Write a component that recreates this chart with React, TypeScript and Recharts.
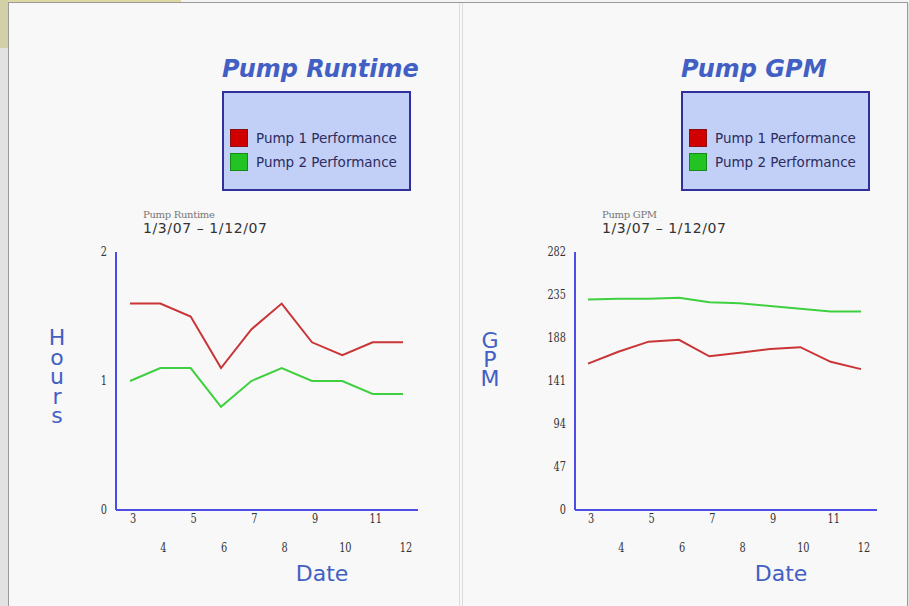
import React from 'react';
import { LineChart, Line, XAxis, YAxis, Legend } from 'recharts';

const dates = [3, 4, 5, 6, 7, 8, 9, 10, 11, 12];
const runtimePump1 = [1.6, 1.6, 1.5, 1.1, 1.4, 1.6, 1.3, 1.2, 1.3, 1.3];
const runtimePump2 = [1.0, 1.1, 1.1, 0.8, 1.0, 1.1, 1.0, 1.0, 0.9, 0.9];
const gpmPump1 = [160, 173, 184, 186, 168, 172, 176, 178, 162, 154];
const gpmPump2 = [230, 231, 231, 232, 227, 226, 223, 220, 217, 217];
const runtimeTicks = [0, 1, 2];
const gpmTicks = [0, 47, 94, 141, 188, 235, 282];
const seriesNames = ['Pump 1 Performance', 'Pump 2 Performance'];

const AXIS = '#4d4de6';
const TITLE = '#4260c4';
const RED = '#c93436';
const GREEN = '#3fd03f';

const build = (a: number[], b: number[]) => dates.map((d, i) => ({ date: d, p1: a[i], p2: b[i] }));

const XTick = (props: any) => {
  const { x, y, payload, index } = props;
  const odd = index % 2 === 0;
  return (
    <text transform={`translate(${x + 3},${y + (odd ? 13 : 42)}) scale(0.75,1)`} textAnchor="middle" fontFamily="DejaVu Serif" fontSize={13} fill="#333">
      {payload.value}
    </text>
  );
};

const YTick = (props: any) => {
  const { x, y, payload } = props;
  return (
    <text transform={`translate(${x - 1},${y + 4}) scale(0.75,1)`} textAnchor="end" fontFamily="DejaVu Serif" fontSize={13} fill="#333">
      {payload.value}
    </text>
  );
};

const LegendBox = (props: any) => {
  const items = props.payload || [];
  return (
    <div style={{ width: 185, height: 96, background: '#c2cff6', border: '2px solid #30309c' }}>
      <div style={{ height: 33 }} />
      {items.map((it: any, i: number) => (
        <div key={i} style={{ display: 'flex', alignItems: 'center', height: 24, marginLeft: 6 }}>
          <div style={{ width: 16, height: 16, background: i === 0 ? '#d10000' : '#22c322', border: `1px solid ${i === 0 ? '#8a1010' : '#158a15'}` }} />
          <span style={{ marginLeft: 8, fontFamily: 'DejaVu Sans', fontSize: 13.5, color: '#2c2c60', whiteSpace: 'nowrap' }}>{it.value}</span>
        </div>
      ))}
    </div>
  );
};

type PanelProps = {
  left: number;
  data: any[];
  ticks: number[];
  yMax: number;
  padL: number;
  padR: number;
};

const Panel = (p: PanelProps) => (
  <div style={{ position: 'absolute', left: p.left, top: 0, width: 450, height: 606 }}>
    <LineChart width={450} height={600} data={p.data} margin={{ top: 252, right: 32, bottom: 30, left: 86 }}>
      <XAxis
        type="number"
        dataKey="date"
        domain={[3, 12]}
        ticks={dates}
        interval={0}
        padding={{ left: p.padL, right: p.padR }}
        axisLine={{ stroke: AXIS, strokeWidth: 2 }}
        tickLine={false}
        tickSize={0}
        tickMargin={0}
        height={60}
        tick={<XTick />}
      />
      <YAxis
        type="number"
        domain={[0, p.yMax]}
        ticks={p.ticks}
        interval={0}
        axisLine={{ stroke: AXIS, strokeWidth: 2 }}
        tickLine={false}
        tickSize={0}
        tickMargin={8}
        width={30}
        tick={<YTick />}
      />
      <Legend
        content={<LegendBox />}
        wrapperStyle={{ position: 'absolute', left: 222, top: 91, width: 0, height: 0, overflow: 'visible' }}
      />
      <Line dataKey="p1" name={seriesNames[0]} stroke={RED} strokeWidth={2} dot={false} isAnimationActive={false} />
      <Line dataKey="p2" name={seriesNames[1]} stroke={GREEN} strokeWidth={2} dot={false} isAnimationActive={false} />
    </LineChart>
  </div>
);

const overlays = [
  { l: 0, t: 'Pump Runtime', s: 'Pump Runtime', L: ['H', 'o', 'u', 'r', 's'], y0: 345, st: 19.5, x: 57 },
  { l: 459, t: 'Pump GPM', s: 'Pump GPM', L: ['G', 'P', 'M'], y0: 348, st: 19, x: 31 },
];

export default function App() {
  return (
    <div style={{ position: 'fixed', left: 0, top: 0, width: 909, height: 606, background: '#e2e2e2', overflow: 'hidden' }}>
      <div style={{ position: 'absolute', left: 0, top: 0, width: 181, height: 4, background: '#dcd9a2' }} />
      <div style={{ position: 'absolute', left: 0, top: 0, width: 8, height: 48, background: '#d2d0a6' }} />
      <div style={{ position: 'absolute', left: 181, top: 0, width: 728, height: 3, background: '#f4f4f4' }} />
      <div style={{ position: 'absolute', left: 8, top: 2, width: 898, height: 620, background: '#f8f8f8', border: '1px solid #9a9a9a' }} />
      <div style={{ position: 'absolute', left: 459, top: 3, width: 1, height: 603, background: '#dcdcdc' }} />
      <div style={{ position: 'absolute', left: 462, top: 3, width: 1, height: 603, background: '#dcdcdc' }} />
      <Panel left={0} data={build(runtimePump1, runtimePump2)} ticks={runtimeTicks} yMax={2} padL={14} padR={15} />
      <Panel left={459} data={build(gpmPump1, gpmPump2)} ticks={gpmTicks} yMax={282} padL={13} padR={16} />
      {overlays.map((c, k) => (
        <div key={k} style={{ position: 'absolute', left: c.l, top: 0, width: 450, height: 606, pointerEvents: 'none' }}>
          <div style={{ position: 'absolute', left: 222, top: 55, fontFamily: 'DejaVu Sans', fontWeight: 'bold', fontStyle: 'italic', fontSize: 24, color: TITLE, whiteSpace: 'nowrap' }}>{c.t}</div>
          <div style={{ position: 'absolute', left: 143, top: 209, fontFamily: 'DejaVu Serif', fontSize: 10, color: '#777', whiteSpace: 'nowrap', letterSpacing: -0.3 }}>{c.s}</div>
          <div style={{ position: 'absolute', left: 143, top: 220, fontFamily: 'DejaVu Sans', fontSize: 14, color: '#333', whiteSpace: 'nowrap', letterSpacing: 0.6 }}>1/3/07 – 1/12/07</div>
          <svg width={450} height={606} style={{ position: 'absolute', left: 0, top: 0 }}>
            {c.L.map((ch, i) => (
              <text key={i} x={c.x} y={c.y0 + i * c.st} fontFamily="DejaVu Sans" fontSize={22} fill={TITLE} textAnchor="middle">{ch}</text>
            ))}
            <text x={322} y={581} fontFamily="DejaVu Sans" fontSize={22} fill={TITLE} textAnchor="middle">Date</text>
          </svg>
        </div>
      ))}
    </div>
  );
}
